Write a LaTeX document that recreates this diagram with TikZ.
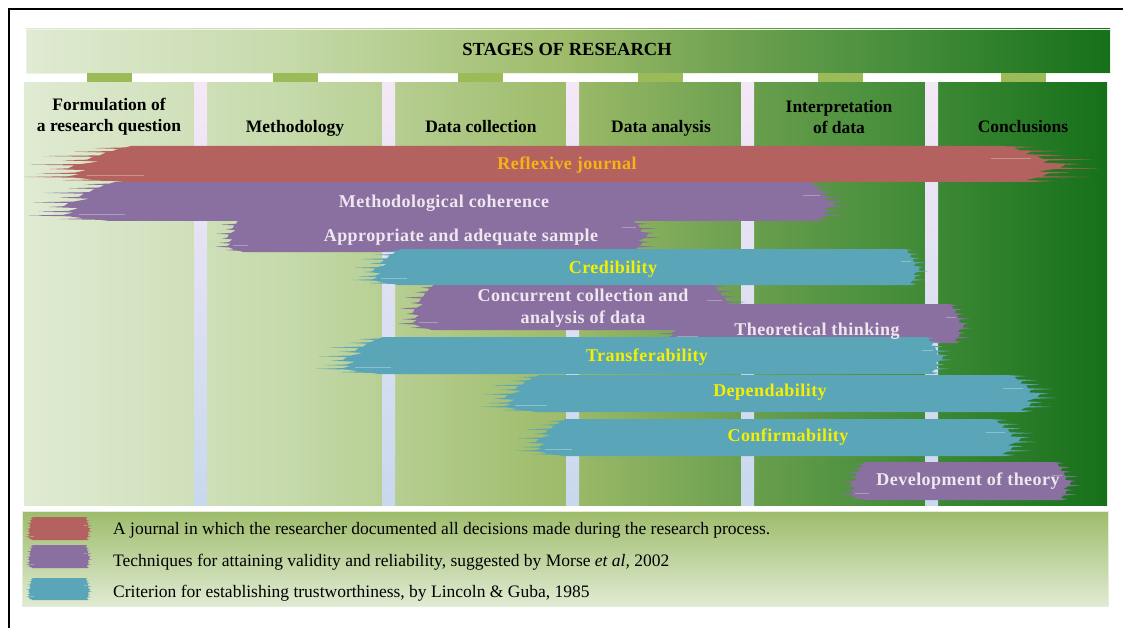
\documentclass[tikz,border=0pt]{standalone}
\usepackage{fontspec}
\setmainfont{Liberation Serif}
\newfontfamily\bandfont[LetterSpace=2.5]{Liberation Serif}

% greens of the stage bar and the columns
\definecolor{gA}{HTML}{E0EBD3}
\definecolor{gB}{HTML}{C6DAAB}
\definecolor{gC}{HTML}{9DBB69}
\definecolor{gD}{HTML}{6CA04F}
\definecolor{gE}{HTML}{428C38}
\definecolor{gF}{HTML}{16701A}
\definecolor{tabgreen}{HTML}{9BBB59}
\definecolor{sepPink}{HTML}{F5E8F6}
\definecolor{sepBlue}{HTML}{C8D8EE}
\definecolor{legTop}{HTML}{9EBC6B}
\definecolor{legBot}{HTML}{E0EBD3}
\definecolor{legEdge}{HTML}{E4ECDA}
% paint strokes
\definecolor{journalred}{HTML}{B4625F}
\definecolor{techpurple}{HTML}{8A70A0}
\definecolor{critteal}{HTML}{5BA5B8}
\definecolor{bandwhite}{HTML}{EFE7EF}
\definecolor{bandyellow}{HTML}{F4F000}
\definecolor{bandorange}{HTML}{F6B316}

\pgfdeclarehorizontalshading{stagegreen}{100bp}{color(0bp)=(gA); color(25bp)=(gA);
  color(37bp)=(gB); color(50bp)=(gC); color(58bp)=(gD); color(66bp)=(gE);
  color(75bp)=(gF); color(100bp)=(gF)}

\tikzset{
    stagehdr/.style={font=\bfseries\fontsize{17.5}{21}\selectfont, align=center, inner sep=0pt},
    bandtxt/.style={font=\bandfont\bfseries\fontsize{18}{21.6}\selectfont, align=center, inner sep=0pt},
    legtxt/.style={font=\fontsize{17.5}{20}\selectfont, anchor=base west, inner sep=0pt},
    sepbar/.style={top color=sepPink, bottom color=sepBlue},
    streak/.style={white, opacity=0.3, line width=0.6pt}
}

% brush stroke: colour, left tip, left body, right body, right tip, top, bottom
\newcommand{\paintband}[7]{%
  \fill[#1] (#3,#6)
    \foreach \ty/\fx in {0/0.15,0.04/0.2,0.06/0.45,0.08/0.25,0.14/0.3,0.16/0.6,0.18/0.35,
      0.26/0.4,0.28/0.85,0.3/0.45,0.38/0.5,0.4/0.7,0.43/0.4,0.5/0.55,0.52/0.95,
      0.54/0.6,0.62/0.65,0.64/0.8,0.67/0.5,0.74/0.6,0.76/0.9,0.78/0.55,0.84/0.65,
      0.86/1,0.88/0.6,0.93/0.45,0.95/0.7,0.97/0.3,1/0.2}
      { -- ({#3-\fx*(#3-#2)},{#6+\ty*(#7-#6)}) }
    -- (#4,#7)
    \foreach \ty/\fx in {0/0.4,0.03/0.6,0.05/0.35,0.12/0.45,0.14/0.9,0.16/0.5,0.24/0.55,
      0.26/0.75,0.29/0.45,0.36/0.6,0.38/1,0.4/0.65,0.48/0.7,0.5/0.85,0.53/0.5,
      0.6/0.55,0.62/0.95,0.64/0.5,0.72/0.45,0.74/0.7,0.77/0.35,0.84/0.4,0.86/0.65,
      0.88/0.3,0.95/0.25,0.97/0.45,1/0.1}
      { -- ({#4+\fx*(#5-#4)},{#7-\ty*(#7-#6)}) }
    -- cycle;
  \draw[streak] ({#3-0.5*(#3-#2)},{#6+0.82*(#7-#6)}) -- ({#3-0.05*(#3-#2)},{#6+0.82*(#7-#6)});
  \draw[streak] ({#4+0.05*(#5-#4)},{#6+0.35*(#7-#6)}) -- ({#4+0.4*(#5-#4)},{#6+0.35*(#7-#6)});}

\begin{document}
\begin{tikzpicture}[x=1pt, y=-1pt]
\useasboundingbox (0,0) rectangle (1123,628);
\draw[line width=2.5pt] (9,628) -- (9,9) -- (1123,9);

% stage bar and columns
\shade[shading=stagegreen, draw=gA!60!white, line width=0.6pt] (26,29) rectangle (1110,73);
\node[stagehdr, font=\bfseries\fontsize{18.5}{22}\selectfont, anchor=base] (title) at (567,56) {STAGES OF RESEARCH};
\foreach \cx in {109,295,480,660,840,1023}
  \fill[tabgreen] (\cx-22.5,73) rectangle (\cx+22.5,83);
\shade[shading=stagegreen] (24,83) rectangle (1107,505);
\foreach \sx in {194,382,566,741,925}
  \shade[sepbar] (\sx,83) rectangle (\sx+13,505);

\node[stagehdr] (formulation) at (109,117) {Formulation of\\a research question};
\node[stagehdr, anchor=base] (methodology) at (295,133) {Methodology};
\node[stagehdr, anchor=base] (collection) at (481,133) {Data collection};
\node[stagehdr, anchor=base] (analysis) at (661,133) {Data analysis};
\node[stagehdr] (interpretation) at (839,117) {Interpretation\\of data};
\node[stagehdr, anchor=base] (conclusions) at (1023,133) {Conclusions};

% paint strokes across the stages
\paintband{techpurple}{28}{130}{800}{850}{182}{221}
\paintband{journalred}{24}{150}{985}{1100}{146}{182}
\paintband{techpurple}{215}{250}{620}{660}{214}{252}
\paintband{critteal}{352}{410}{900}{928}{249}{285}
\paintband{techpurple}{398}{440}{705}{748}{285}{330}
\paintband{techpurple}{653}{700}{945}{972}{304}{343}
\paintband{critteal}{315}{395}{920}{953}{337}{374}
\paintband{critteal}{480}{550}{1000}{1057}{375}{412}
\paintband{critteal}{515}{575}{983}{1037}{419}{456}
\paintband{techpurple}{840}{870}{1050}{1080}{462}{500}

\node[bandtxt, text=bandorange, anchor=base] (reflexive) at (567,170) {Reflexive journal};
\node[bandtxt, text=bandwhite, anchor=base] (coherence) at (444,208) {Methodological coherence};
\node[bandtxt, text=bandwhite, anchor=base] (sample) at (461,241) {Appropriate and adequate sample};
\node[bandtxt, text=bandyellow, anchor=base] (credibility) at (613,273) {Credibility};
\node[bandtxt, text=bandwhite] (concurrent) at (583,308) {Concurrent collection and\\analysis of data};
\node[bandtxt, text=bandwhite, anchor=base] (theoretical) at (817,335) {Theoretical thinking};
\node[bandtxt, text=bandyellow, anchor=base] (transferability) at (647,361) {Transferability};
\node[bandtxt, text=bandyellow, anchor=base] (dependability) at (770,396) {Dependability};
\node[bandtxt, text=bandyellow, anchor=base] (confirmability) at (788,441) {Confirmability};
\node[bandtxt, text=bandwhite, anchor=base] (theory) at (968,485) {Development of theory};

% legend
\shade[top color=legTop, bottom color=legBot, draw=legEdge, line width=0.8pt] (22,511) rectangle (1108,606);
\paintband{journalred}{26}{34}{84}{92}{517}{540}
\paintband{techpurple}{26}{34}{84}{92}{545}{568}
\paintband{critteal}{26}{34}{84}{92}{578}{600}
\node[legtxt] (leg-journal) at (113,534) {A journal in which the researcher documented all decisions made during the research process.};
\node[legtxt] (leg-techniques) at (113,566) {Techniques for attaining validity and reliability, suggested by Morse \textit{et al,} 2002};
\node[legtxt] (leg-criterion) at (113,597) {Criterion for establishing trustworthiness, by Lincoln \& Guba, 1985};
\end{tikzpicture}
\end{document}
